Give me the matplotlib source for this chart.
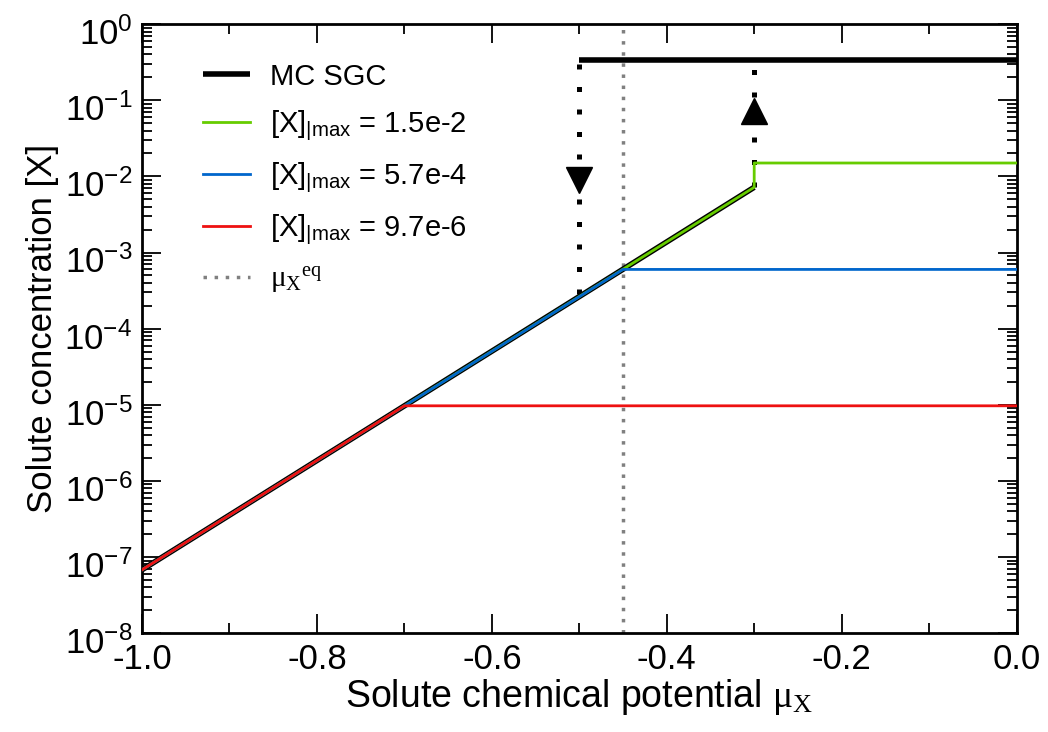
import numpy as np
import matplotlib.pyplot as plt
from matplotlib.ticker import MultipleLocator, LogLocator, NullFormatter
from matplotlib.transforms import ScaledTranslation

plt.rcParams['font.family'] = ['Liberation Sans', 'DejaVu Sans']
plt.rcParams['mathtext.fontset'] = 'custom'
plt.rcParams['mathtext.rm'] = 'Liberation Serif'
plt.rcParams['mathtext.sf'] = 'Liberation Sans'
plt.rcParams['mathtext.it'] = 'Liberation Serif:italic'

# data
mu_eq = -0.45

sgc_slope_x = [-1.0, -0.3]
sgc_slope_y = [6.8e-8, 7.2e-3]
sgc_high_x = [-0.5, 0.0]
sgc_high_y = [0.34, 0.34]

green_x = [-1.0, -0.3, -0.3, 0.0]
green_y = [6.8e-8, 7.2e-3, 1.5e-2, 1.5e-2]
blue_x = [-1.0, -0.45, 0.0]
blue_y = [6.8e-8, 6.0e-4, 6.0e-4]
red_x = [-1.0, -0.7, 0.0]
red_y = [6.8e-8, 9.7e-6, 9.7e-6]

# hysteresis jumps (dotted arrows)
down_x = [-0.5, -0.5]
down_y = [0.30, 2.6e-4]
down_head = 9e-3
up_x = [-0.3, -0.3]
up_y = [7.2e-3, 0.30]
up_head = 7.2e-2

fig = plt.figure(figsize=(10.48, 7.32), dpi=100)
ax = fig.add_axes([0.1355, 0.135, 0.8345, 0.832])

ax.axvline(mu_eq, color='#808080', lw=2.5, ls=(0, (1, 2.2)), zorder=1)

ax.plot(down_x, down_y, color='black', lw=3.6, ls=(0, (1, 3.5)), zorder=2)
ax.plot(up_x, up_y, color='black', lw=3.6, ls=(0, (1, 3.5)), zorder=2)
ax.plot([-0.5], [down_head], marker='v', ms=19, color='black', ls='none', zorder=3)
ax.plot([-0.3], [up_head], marker='^', ms=19, color='black', ls='none', zorder=3)

ax.plot(sgc_slope_x, sgc_slope_y, color='black', lw=4, solid_capstyle='butt', zorder=4)
ax.plot(sgc_high_x, sgc_high_y, color='black', lw=4, solid_capstyle='butt', zorder=4,
        label='MC SGC')
ax.plot(green_x, green_y, color='#66cc00', lw=2, zorder=5,
        label=r'[X]$_{\mathsf{|max}}$ = 1.5e-2')
ax.plot(blue_x, blue_y, color='#0066cc', lw=2, zorder=6,
        label=r'[X]$_{\mathsf{|max}}$ = 5.7e-4')
ax.plot(red_x, red_y, color='#ee1111', lw=2, zorder=7,
        label=r'[X]$_{\mathsf{|max}}$ = 9.7e-6')
ax.plot([], [], color='#808080', lw=2.5, ls=(0, (1, 2.2)),
        label=r'$\mathrm{μ}_{\mathrm{X}}{}^{\mathrm{eq}}$')

ax.set_yscale('log')
ax.set_xlim(-1.0, 0.0)
ax.set_ylim(1e-8, 1e0)
ax.xaxis.set_major_locator(MultipleLocator(0.2))
ax.xaxis.set_minor_locator(MultipleLocator(0.1))
ax.yaxis.set_major_locator(LogLocator(base=10, numticks=20))
ax.yaxis.set_minor_locator(LogLocator(base=10, subs=np.arange(2, 10), numticks=20))
ax.yaxis.set_minor_formatter(NullFormatter())
ax.xaxis.set_major_formatter(plt.FuncFormatter(lambda v, p: '%.1f' % v))

ax.tick_params(which='both', direction='in', top=True, right=True, labelsize=25, width=1.3)
ax.tick_params(which='major', length=14, pad=7)
ax.tick_params(which='minor', length=7)
for s in ax.spines.values():
    s.set_linewidth(2)

# y tick labels sit a little below their ticks in the original
shift = ScaledTranslation(0, -5 / 72, fig.dpi_scale_trans)
for lab in ax.get_yticklabels():
    lab.set_transform(lab.get_transform() + shift)

ax.set_xlabel(r'Solute chemical potential $\mathrm{μ}_{\mathrm{X}}$', fontsize=27, labelpad=1)
ax.set_ylabel('Solute concentration [X]', fontsize=25, labelpad=4)

ax.legend(loc='upper left', bbox_to_anchor=(0.04, 0.98), frameon=False, fontsize=21,
          handlelength=1.6, handletextpad=0.7, labelspacing=0.62)

fig.savefig('out.png', dpi=100)
